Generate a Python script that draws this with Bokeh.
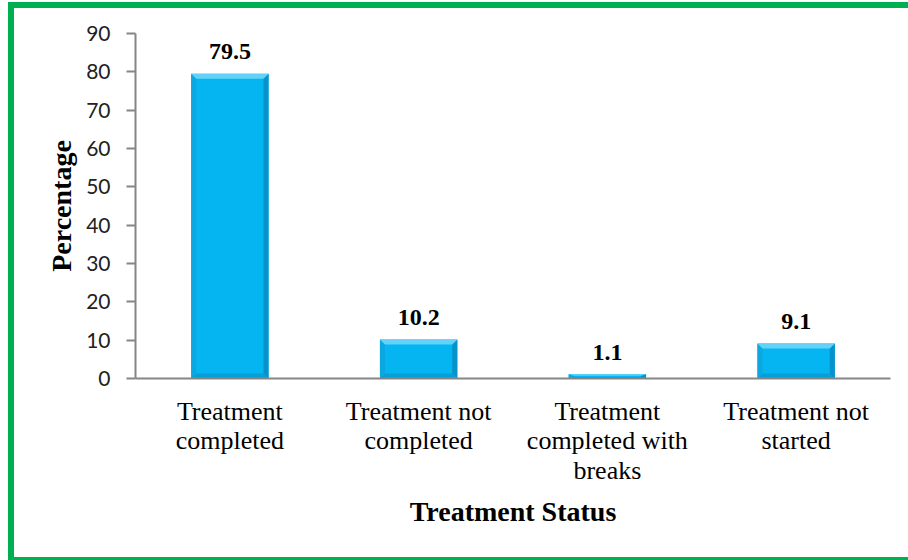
import numpy as np
from bokeh.plotting import figure
from bokeh.models import ColumnDataSource, FixedTicker, Range1d
from bokeh.core.properties import value
from bokeh.embed import file_html
from bokeh.resources import INLINE

# Treatment status distribution (%)
categories = [
    "Treatment completed",
    "Treatment not completed",
    "Treatment completed with breaks",
    "Treatment not started",
]
tick_labels = [
    "Treatment\ncompleted",
    "Treatment not\ncompleted",
    "Treatment\ncompleted with\nbreaks",
    "Treatment not\nstarted",
]
percentages = [79.5, 10.2, 1.1, 9.1]
value_labels = ["79.5", "10.2", "1.1", "9.1"]
y_ticks = [0, 10, 20, 30, 40, 50, 60, 70, 80, 90]

SERIF = "Liberation Serif"
GREEN = "#00B050"
AXIS_GRAY = "#868686"

x = np.arange(len(categories), dtype=float)
vals = np.array(percentages, dtype=float)

# green frame painted as background bands behind the (transparent) plot border
band = f"linear-gradient({GREEN}, {GREEN})"
frame_bg = ", ".join([
    f"{band} 8px 2px / 6px 558px no-repeat",
    f"{band} 8px 2px / 900px 6px no-repeat",
    f"{band} 8px 557px / 900px 3px no-repeat",
    "#ffffff",
])

p = figure(
    width=908, height=560,
    x_range=Range1d(-0.5, len(categories) - 0.5),
    y_range=Range1d(0, 90),
    output_backend="svg", toolbar_location=None,
    min_border_left=135, min_border_right=18,
    min_border_top=33, min_border_bottom=182,
    styles={"background": frame_bg},
)
p.outline_line_color = None
p.grid.grid_line_color = None
p.background_fill_color = "white"
p.border_fill_color = None

# bars with a bevelled, glossy look
half = 0.205
bx = 0.027
by = np.minimum(1.3, vals / 3.0)

face = ColumnDataSource(dict(x=x, top=vals))
p.vbar(x="x", top="top", width=2 * half, bottom=0, source=face,
       fill_color="#05B5F2", line_color=None)

def bevel(side):
    xs, ys = [], []
    for xi, v, b in zip(x, vals, by):
        l, r = xi - half, xi + half
        if side == "top":
            xs.append([l, r, r - bx, l + bx]); ys.append([v, v, v - b, v - b])
        elif side == "left":
            xs.append([l, l + bx, l + bx, l]); ys.append([0, b, v - b, v])
        elif side == "right":
            xs.append([r, r - bx, r - bx, r]); ys.append([0, b, v - b, v])
        else:
            xs.append([l, r, r - bx, l + bx]); ys.append([0, 0, b, b])
    return ColumnDataSource(dict(xs=xs, ys=ys))

p.patches("xs", "ys", source=bevel("bottom"), fill_color="#089ED6", line_color=None)
p.patches("xs", "ys", source=bevel("left"), fill_color="#0AA8DF", line_color=None)
p.patches("xs", "ys", source=bevel("right"), fill_color="#0892CA", line_color=None)
p.patches("xs", "ys", source=bevel("top"), fill_color="#62D2F8", line_color=None)

# value labels above bars
p.text(x=x, y=vals, text=value_labels, y_offset=-22,
       text_align="center", text_baseline="alphabetic",
       text_font=value(SERIF), text_font_style="bold",
       text_font_size="24px", text_color="#000000")

# x axis
p.xaxis.ticker = FixedTicker(ticks=list(range(len(categories))))
p.xaxis.major_label_overrides = {i: lab for i, lab in enumerate(tick_labels)}
p.xaxis.major_tick_line_color = None
p.xaxis.minor_tick_line_color = None
p.xaxis.axis_line_color = AXIS_GRAY
p.xaxis.axis_line_width = 2
p.xaxis.major_label_standoff = 12
p.xaxis.major_label_text_font = SERIF
p.xaxis.major_label_text_font_size = "26px"
p.xaxis.major_label_text_line_height = 1.02
p.xaxis.major_label_text_color = "#000000"
p.xaxis.axis_label = "Treatment Status"
p.xaxis.axis_label_text_font = SERIF
p.xaxis.axis_label_text_font_style = "bold"
p.xaxis.axis_label_text_font_size = "28px"
p.xaxis.axis_label_text_color = "#000000"
p.xaxis.axis_label_standoff = 8

# y axis
p.yaxis.ticker = FixedTicker(ticks=y_ticks)
p.yaxis.minor_tick_line_color = None
p.yaxis.axis_line_color = AXIS_GRAY
p.yaxis.axis_line_width = 2
p.yaxis.major_tick_line_color = AXIS_GRAY
p.yaxis.major_tick_line_width = 2
p.yaxis.major_tick_in = 0
p.yaxis.major_tick_out = 9
p.yaxis.major_label_standoff = 16
p.yaxis.major_label_text_font = "Lato"
p.yaxis.major_label_text_font_size = "21px"
p.yaxis.major_label_text_color = "#222222"
p.yaxis.axis_label = "Percentage"
p.yaxis.axis_label_text_font = SERIF
p.yaxis.axis_label_text_font_style = "bold"
p.yaxis.axis_label_text_font_size = "28px"
p.yaxis.axis_label_text_color = "#000000"
p.yaxis.axis_label_standoff = 6

open("out.html", "w").write(file_html(p, INLINE))
